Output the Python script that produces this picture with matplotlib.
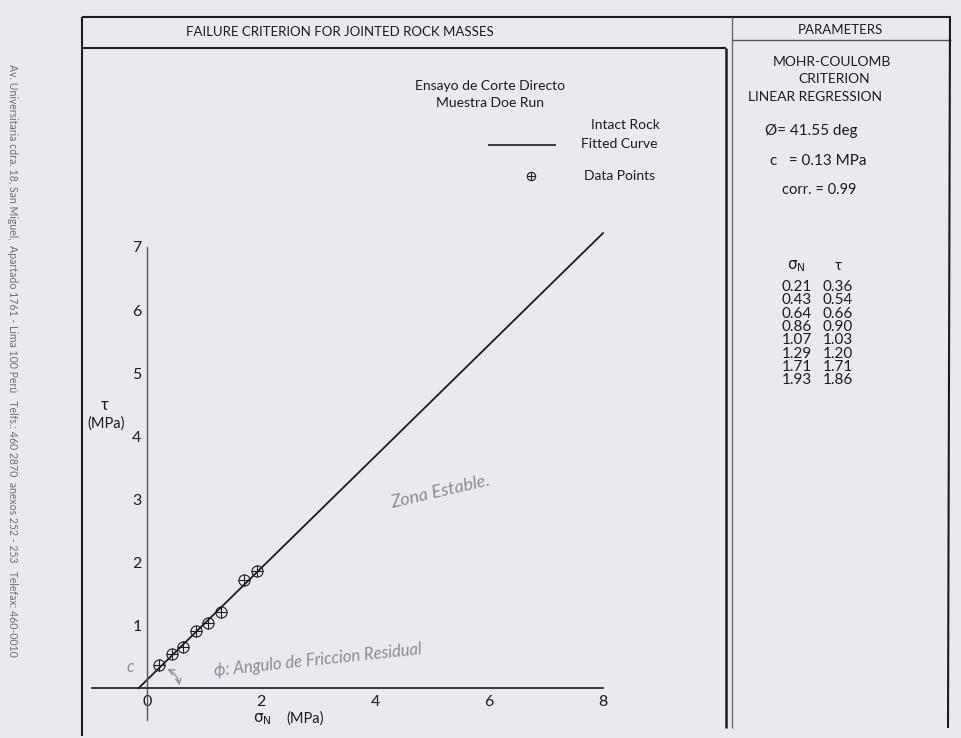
import numpy as np
import matplotlib
matplotlib.use("Agg")
import matplotlib.pyplot as plt
from matplotlib.lines import Line2D

plt.rcParams['font.family'] = ['Lato', 'DejaVu Sans']

# direct shear test results (normal stress, shear stress) in MPa
sigma_n = [0.21, 0.43, 0.64, 0.86, 1.07, 1.29, 1.71, 1.93]
tau = [0.36, 0.54, 0.66, 0.90, 1.03, 1.20, 1.71, 1.86]

# Mohr-Coulomb linear regression
phi_deg = 41.55
cohesion = 0.13
corr = 0.99

x_ticks = [0, 2, 4, 6, 8]
y_ticks = [1, 2, 3, 4, 5, 6, 7]

W, H = 961, 738
paper = '#e9e9f0'
ink = '#1c1c1c'
pencil = '#8c8c98'

fig = plt.figure(figsize=(W / 100, H / 100), dpi=100, facecolor=paper)

# page layer in pixel units: frames, headers, parameter table
bg = fig.add_axes([0, 0, 1, 1], zorder=0)
bg.set_xlim(0, W)
bg.set_ylim(H, 0)
bg.axis('off')


def seg(x0, y0, x1, y1, lw=1.4, color=ink):
    bg.add_line(Line2D([x0, x1], [y0, y1], lw=lw, color=color, solid_capstyle='butt'))


seg(82, 17, 951, 17, 1.5)
seg(82, 17, 82, 736, 1.5)
seg(82, 48, 726, 48, 1.5)
seg(726, 48, 726, 728, 1.8)
seg(732, 17, 732, 728, 1.0, '#6a6a70')
seg(732, 40, 951, 40, 1.0, '#55555a')
seg(950, 17, 948, 728, 1.5)

bg.text(340, 32, 'FAILURE CRITERION FOR JOINTED ROCK MASSES', ha='center', va='center',
        fontsize=9.5, color=ink)
bg.text(840, 30, 'PARAMETERS', ha='center', va='center', fontsize=9.5, color=ink)

# subtitle and legend
bg.text(490, 86, 'Ensayo de Corte Directo', ha='center', va='center', fontsize=10, color=ink)
bg.text(490, 103, 'Muestra Doe Run', ha='center', va='center', fontsize=10, color=ink)
bg.text(625, 125, 'Intact Rock', ha='center', va='center', fontsize=10, color=ink)
bg.text(619, 144, 'Fitted Curve', ha='center', va='center', fontsize=10, color=ink)
seg(488, 145, 556, 145, 1.2)
bg.plot([531], [176], marker='o', ms=6, mfc='none', mec=ink, mew=0.8)
bg.plot([531], [176], marker='+', ms=6, mec=ink, mew=0.8)
bg.text(620, 176, 'Data Points', ha='center', va='center', fontsize=10, color=ink)

# parameters column
bg.text(832, 62, 'MOHR-COULOMB', ha='center', va='center', fontsize=10, color=ink)
bg.text(834, 79, 'CRITERION', ha='center', va='center', fontsize=10, color=ink)
bg.text(815, 97, 'LINEAR REGRESSION', ha='center', va='center', fontsize=10, color=ink)
bg.text(765, 131, f'Ø= {phi_deg:.2f} deg', ha='left', va='center', fontsize=11, color=ink)
bg.text(770, 161, f'c   = {cohesion:.2f} MPa', ha='left', va='center', fontsize=11, color=ink)
bg.text(782, 190, f'corr. = {corr:.2f}', ha='left', va='center', fontsize=10.5, color=ink)

bg.text(796, 266, r'$\mathrm{\sigma}_\mathrm{N}$', ha='center', va='center', fontsize=11,
        color=ink)
bg.text(838, 266, 'τ', ha='center', va='center', fontsize=11, color=ink)
row_y = 287
for s, t in zip(sigma_n, tau):
    bg.text(797, row_y, f'{s:.2f}', ha='center', va='center', fontsize=11, color=ink)
    bg.text(838, row_y, f'{t:.2f}', ha='center', va='center', fontsize=11, color=ink)
    row_y += 13.3

# address printed along the left margin
bg.text(12, 360, 'Av. Universitaria cdra. 18, San Miguel,  Apartado 1761 - Lima 100 Perú   '
        'Telfs.: 460 2870  anexos 252 - 253   Telefax: 460-0010',
        rotation=-90, ha='center', va='center', fontsize=7.6, color='#6e6e76')

# shear strength plot
px_l, px_r, px_t, px_b = 92, 603, 247, 720
ax = fig.add_axes([px_l / W, 1 - px_b / H, (px_r - px_l) / W, (px_b - px_t) / H], zorder=1)
ax.patch.set_alpha(0)
x0 = -(147 - px_l) / ((603 - 147) / 8)
ax.set_xlim(x0, 8)
ax.set_ylim(-(720 - 688) / 63.2, 7)

for side in ('top', 'right'):
    ax.spines[side].set_visible(False)
ax.spines['bottom'].set_position(('data', 0))
ax.spines['left'].set_position(('data', 0))
ax.spines['bottom'].set_color(ink)
ax.spines['left'].set_color('#555560')
ax.spines['bottom'].set_linewidth(1.2)
ax.spines['left'].set_linewidth(1.0)
ax.set_xticks(x_ticks)
ax.set_yticks(y_ticks)
ax.tick_params(length=0, labelsize=11.5, colors=ink)
ax.tick_params(axis='x', pad=5)
ax.tick_params(axis='y', pad=4)

# fitted Mohr-Coulomb envelope, drawn from tau = 0 up to sigma = 8
tan_phi = np.tan(np.radians(phi_deg))
s_line = np.array([-cohesion / tan_phi, 8])
ax.plot(s_line, cohesion + tan_phi * s_line, color=ink, lw=1.3, clip_on=False)

ax.plot(sigma_n, tau, ls='none', marker='o', ms=8, mfc='none', mec=ink, mew=0.8)
ax.plot(sigma_n, tau, ls='none', marker='+', ms=8, mec=ink, mew=0.8)

bg.text(105, 405, 'τ', ha='center', va='center', fontsize=12, color=ink)
bg.text(106, 424, '(MPa)', ha='center', va='center', fontsize=10.5, color=ink)
bg.text(262, 719, r'$\mathrm{\sigma}_\mathrm{N}$', ha='center', va='center', fontsize=11,
        color=ink)
bg.text(305, 719, '(MPa)', ha='center', va='center', fontsize=10.5, color=ink)

# pencil notes
bg.text(440, 492, 'Zona Estable.', rotation=13, ha='center', va='center', fontsize=13,
        style='italic', color=pencil)
bg.text(318, 660, 'ϕ: Angulo de Friccion Residual', rotation=6, ha='center', va='center',
        fontsize=12, style='italic', color=pencil)
bg.text(130, 667, 'c', ha='center', va='center', fontsize=12, style='italic', color=pencil)
bg.annotate('', xy=(180, 688), xytext=(165, 668),
            arrowprops=dict(arrowstyle='<->', color=pencil, lw=0.9,
                            connectionstyle='arc3,rad=-0.3'))

fig.savefig('out.png', dpi=100, facecolor=paper)
